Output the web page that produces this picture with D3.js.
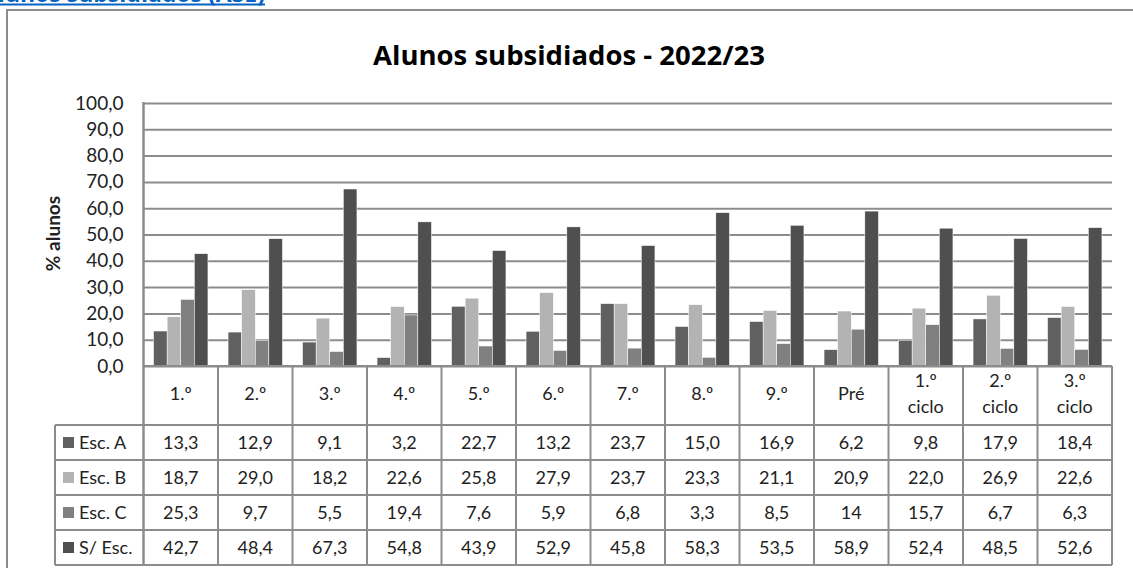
<!DOCTYPE html>
<html>
<head>
<meta charset="utf-8">
<script src="https://cdn.jsdelivr.net/npm/d3@7"></script>
<style>
  body { margin: 0; background: #fff; }
  svg { display: block; font-family: Lato, "Open Sans", sans-serif; }
</style>
</head>
<body>
<div id="chart"></div>
<script>
// data, as shown in the table under the chart
const categories = ["1.º", "2.º", "3.º", "4.º", "5.º", "6.º", "7.º", "8.º", "9.º", "Pré", "1.º ciclo", "2.º ciclo", "3.º ciclo"];
const seriesNames = ["Esc. A", "Esc. B", "Esc. C", "S/ Esc."];
const escA = ["13,3", "12,9", "9,1", "3,2", "22,7", "13,2", "23,7", "15,0", "16,9", "6,2", "9,8", "17,9", "18,4"];
const escB = ["18,7", "29,0", "18,2", "22,6", "25,8", "27,9", "23,7", "23,3", "21,1", "20,9", "22,0", "26,9", "22,6"];
const escC = ["25,3", "9,7", "5,5", "19,4", "7,6", "5,9", "6,8", "3,3", "8,5", "14", "15,7", "6,7", "6,3"];
const semEsc = ["42,7", "48,4", "67,3", "54,8", "43,9", "52,9", "45,8", "58,3", "53,5", "58,9", "52,4", "48,5", "52,6"];
const yTicks = [0, 10, 20, 30, 40, 50, 60, 70, 80, 90, 100];

const seriesValues = [escA, escB, escC, semEsc];
const colors = ["#606060", "#b3b3b3", "#808080", "#4f4f4f"];
const toNum = s => +s.replace(",", ".");

const W = 1133, H = 568;
const plot = { left: 143.5, right: 1112, top: 103, bottom: 366 };
const rowY = [366, 425, 460, 495, 530, 565]; // header row + 4 data rows
const legendLeft = 55;
const lineColor = "#8c8c8c";

const svg = d3.select("#chart").append("svg")
    .attr("width", W)
    .attr("height", H);

// link text above the chart, mostly scrolled out of view
svg.append("text")
    .attr("x", 265)
    .attr("y", 2)
    .attr("text-anchor", "end")
    .style("font-family", "'Open Sans', sans-serif")
    .style("font-weight", "bold")
    .style("font-size", "23px")
    .style("fill", "#0563c1")
    .text("Alunos subsidiados (ASE)");
svg.append("line")
    .attr("x1", 0).attr("x2", 265)
    .attr("y1", 4.5).attr("y2", 4.5)
    .style("stroke", "#0563c1")
    .style("stroke-width", 2);

// chart frame (runs off the right and bottom)
svg.append("rect")
    .attr("x", 7).attr("y", 10)
    .attr("width", 1200).attr("height", 700)
    .style("fill", "#fff")
    .style("stroke", lineColor)
    .style("stroke-width", 2);

svg.append("text")
    .attr("x", 569)
    .attr("y", 65)
    .attr("text-anchor", "middle")
    .style("font-family", "'Open Sans', sans-serif")
    .style("font-weight", "bold")
    .style("font-size", "27.5px")
    .style("fill", "#000")
    .text("Alunos subsidiados - 2022/23");

const x0 = d3.scaleBand()
    .domain(categories)
    .range([plot.left, plot.right])
    .paddingInner(0.27)
    .paddingOuter(0.135);

const x1 = d3.scaleBand()
    .domain(seriesNames)
    .range([0, x0.bandwidth()]);

const y = d3.scaleLinear()
    .domain([0, 100])
    .range([plot.bottom, plot.top]);

// gridlines
const grid = svg.append("g")
    .attr("transform", `translate(${plot.left},0)`)
    .call(d3.axisLeft(y).tickValues(yTicks).tickSize(-(plot.right - plot.left)).tickFormat(""));
grid.select(".domain").remove();
grid.selectAll("line")
    .style("stroke", lineColor)
    .style("stroke-width", 2);

// y labels
const yAxis = svg.append("g")
    .attr("transform", `translate(${plot.left - 20},0)`)
    .call(d3.axisLeft(y).tickValues(yTicks).tickSize(0)
        .tickFormat(d => d.toFixed(1).replace(".", ",")));
yAxis.select(".domain").remove();
yAxis.selectAll("text")
    .attr("x", 0)
    .style("font-family", "Lato, sans-serif")
    .style("font-size", "19px")
    .style("fill", "#222");

svg.append("text")
    .attr("transform", `translate(60,${(plot.top + plot.bottom) / 2 - 1}) rotate(-90)`)
    .attr("text-anchor", "middle")
    .style("font-weight", "bold")
    .style("font-size", "19px")
    .style("fill", "#222")
    .text("% alunos");

// bars
const groups = svg.append("g").selectAll("g")
    .data(categories)
    .join("g")
    .attr("transform", d => `translate(${x0(d)},0)`);

groups.selectAll("rect")
    .data((d, i) => seriesNames.map((s, k) => ({ s, k, v: toNum(seriesValues[k][i]) })))
    .join("rect")
    .attr("x", d => x1(d.s))
    .attr("y", d => y(d.v))
    .attr("width", x1.bandwidth())
    .attr("height", d => y(0) - y(d.v))
    .style("fill", d => colors[d.k])
    .style("stroke", "#fff")
    .style("stroke-width", 0.5);

// data table
const step = x0.step();
const table = svg.append("g");
const bounds = d3.range(categories.length + 1).map(i => plot.left + i * step);

// vertical lines
table.selectAll(".vline")
    .data(bounds)
    .join("line")
    .attr("x1", d => d).attr("x2", d => d)
    .attr("y1", (d, i) => i === 0 ? plot.top - 1 : rowY[0])
    .attr("y2", rowY[rowY.length - 1])
    .style("stroke", lineColor)
    .style("stroke-width", (d, i) => i === 0 ? 2.5 : 2);

table.append("line")
    .attr("x1", legendLeft).attr("x2", legendLeft)
    .attr("y1", rowY[1]).attr("y2", rowY[rowY.length - 1])
    .style("stroke", lineColor)
    .style("stroke-width", 2);

// horizontal lines
table.selectAll(".hline")
    .data(rowY)
    .join("line")
    .attr("x1", (d, i) => i === 0 ? plot.left : legendLeft)
    .attr("x2", plot.right)
    .attr("y1", d => d).attr("y2", d => d)
    .style("stroke", lineColor)
    .style("stroke-width", 2);

// header labels
const headerMid = (rowY[0] + rowY[1]) / 2 - 2;
categories.forEach(c => {
    const lines = c.split(" ");
    const t = table.append("text")
        .attr("x", x0(c) + x0.bandwidth() / 2)
        .attr("text-anchor", "middle")
        .style("font-size", "18px")
        .style("fill", "#222");
    lines.forEach((ln, j) => {
        t.append("tspan")
            .attr("x", x0(c) + x0.bandwidth() / 2)
            .attr("y", headerMid + (j - (lines.length - 1) / 2) * 26)
            .attr("dy", "0.35em")
            .text(ln);
    });
});

// rows
seriesNames.forEach((s, k) => {
    const mid = (rowY[k + 1] + rowY[k + 2]) / 2;
    table.append("rect")
        .attr("x", 63).attr("y", mid - 5.5)
        .attr("width", 11).attr("height", 11)
        .style("fill", colors[k]);
    table.append("text")
        .attr("x", 79).attr("y", mid)
        .attr("dy", "0.35em")
        .style("font-size", "18px")
        .style("fill", "#222")
        .text(s);
    table.selectAll(null)
        .data(seriesValues[k])
        .join("text")
        .attr("x", (d, i) => x0(categories[i]) + x0.bandwidth() / 2)
        .attr("y", mid)
        .attr("dy", "0.35em")
        .attr("text-anchor", "middle")
        .style("font-size", "18px")
        .style("fill", "#222")
        .text(d => d);
});
</script>
</body>
</html>
